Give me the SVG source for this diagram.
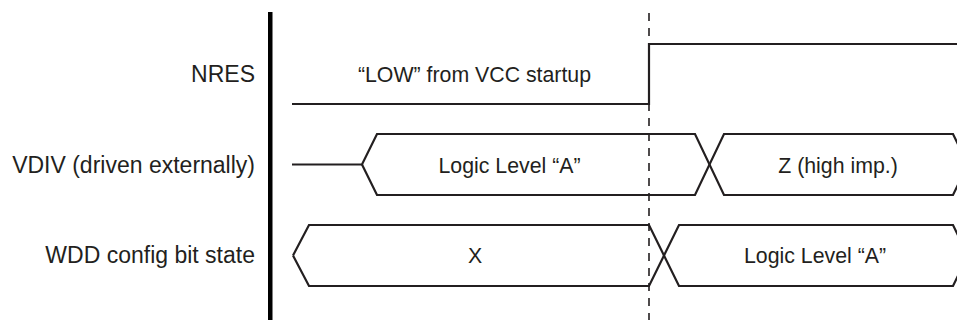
<svg xmlns="http://www.w3.org/2000/svg" width="957" height="320" viewBox="0 0 957 320">
<style>
.lbl{font-family:"Liberation Sans",Arial,sans-serif;font-size:23px;fill:#231f20}
.txt{font-family:"Liberation Sans",Arial,sans-serif;font-size:21.3px;fill:#231f20}
.sig{fill:none;stroke:#231f20;stroke-width:2.2;stroke-linejoin:miter}
.dash{fill:none;stroke:#231f20;stroke-width:1.6;stroke-dasharray:8 7}
</style>
<rect x="0" y="0" width="957" height="320" fill="#ffffff"/>
<g id="labels">
<g id="lbl-nres"><text class="lbl" x="255" y="82" text-anchor="end">NRES</text></g>
<g id="lbl-vdiv"><text class="lbl" x="255" y="173" text-anchor="end">VDIV (driven externally)</text></g>
<g id="lbl-wdd"><text class="lbl" x="255" y="263" text-anchor="end">WDD config bit state</text></g>
</g>
<g id="axis"><rect x="268" y="12" width="4.5" height="308" fill="#000"/></g>
<g id="connectors">
<line class="dash" x1="649" y1="13" x2="649" y2="320"/>
</g>
<g id="nres">
<path class="sig" d="M292 104 H649 V44 H957"/>
<text class="txt" x="474.5" y="82" text-anchor="middle">“LOW” from VCC startup</text>
</g>
<g id="vdiv">
<path class="sig" d="M292 164.5 H362 L377 134 H695 L724 195 H953 L968 164.5"/>
<path class="sig" d="M362 164.5 L377 195 H695 L724 134 H953 L968 164.5"/>
<text class="txt" x="509.5" y="173" text-anchor="middle">Logic Level “A”</text>
<text class="txt" x="838" y="173" text-anchor="middle">Z (high imp.)</text>
</g>
<g id="wdd">
<path class="sig" d="M293 255.5 L309 225 H649 L679 286 H953 L968 255.5"/>
<path class="sig" d="M293 255.5 L309 286 H649 L679 225 H953 L968 255.5"/>
<text class="txt" x="475" y="263" text-anchor="middle">X</text>
<text class="txt" x="815" y="263" text-anchor="middle">Logic Level “A”</text>
</g>
</svg>
